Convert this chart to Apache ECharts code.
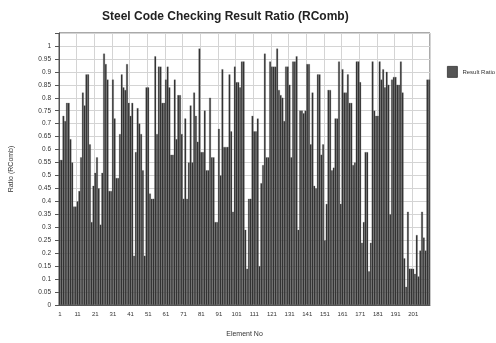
<!DOCTYPE html>
<html>
<head>
<meta charset="utf-8">
<script src="https://cdn.jsdelivr.net/npm/echarts@6/dist/echarts.min.js"></script>
<style>
  html, body { margin: 0; padding: 0; background: #fff; }
  #chart { width: 496px; height: 343px; }
</style>
</head>
<body>
<div id="chart"></div>
<script>
const titleText = "Steel Code Checking Result Ratio (RComb)";
const seriesName = "Result Ratio";
const xName = "Element No";
const yName = "Ratio (RComb)";

// element numbers 1..210
const elements = Array.from({ length: 210 }, (_, i) => String(i + 1));

// ratio per element (rows of 10)
const ratios = [
  0.56, 0.56, 0.73, 0.71, 0.78, 0.78, 0.64, 0.55, 0.38, 0.38,
  0.40, 0.44, 0.57, 0.82, 0.77, 0.89, 0.89, 0.62, 0.32, 0.46,
  0.51, 0.57, 0.45, 0.31, 0.51, 0.97, 0.93, 0.87, 0.44, 0.44,
  0.87, 0.72, 0.49, 0.49, 0.66, 0.89, 0.84, 0.83, 0.93, 0.78,
  0.73, 0.78, 0.19, 0.59, 0.76, 0.70, 0.66, 0.52, 0.19, 0.84,
  0.84, 0.43, 0.41, 0.41, 0.96, 0.66, 0.92, 0.92, 0.78, 0.78,
  0.87, 0.92, 0.84, 0.58, 0.58, 0.87, 0.64, 0.81, 0.81, 0.66,
  0.41, 0.72, 0.41, 0.55, 0.77, 0.55, 0.82, 0.73, 0.63, 0.99,
  0.59, 0.59, 0.75, 0.52, 0.52, 0.80, 0.57, 0.57, 0.32, 0.32,
  0.68, 0.50, 0.91, 0.61, 0.61, 0.61, 0.89, 0.67, 0.36, 0.92,
  0.86, 0.86, 0.84, 0.94, 0.94, 0.29, 0.14, 0.41, 0.41, 0.73,
  0.67, 0.67, 0.72, 0.15, 0.47, 0.54, 0.97, 0.57, 0.57, 0.94,
  0.92, 0.92, 0.92, 0.99, 0.83, 0.81, 0.80, 0.71, 0.92, 0.92,
  0.85, 0.57, 0.94, 0.94, 0.96, 0.29, 0.75, 0.75, 0.74, 0.75,
  0.93, 0.93, 0.62, 0.82, 0.46, 0.45, 0.89, 0.89, 0.58, 0.62,
  0.25, 0.39, 0.83, 0.83, 0.52, 0.53, 0.72, 0.72, 0.94, 0.39,
  0.91, 0.82, 0.82, 0.89, 0.78, 0.78, 0.54, 0.55, 0.94, 0.94,
  0.86, 0.24, 0.32, 0.59, 0.59, 0.13, 0.24, 0.94, 0.75, 0.73,
  0.73, 0.94, 0.87, 0.91, 0.84, 0.90, 0.85, 0.35, 0.87, 0.88,
  0.88, 0.85, 0.85, 0.94, 0.82, 0.18, 0.07, 0.36, 0.14, 0.14,
  0.14, 0.12, 0.27, 0.11, 0.21, 0.36, 0.26, 0.21, 0.87, 0.87
];

const chart = echarts.init(document.getElementById("chart"), null, { renderer: "canvas" });
chart.setOption({
  animation: false,
  textStyle: { fontFamily: "Liberation Sans, Arial, sans-serif" },
  title: {
    text: titleText, left: 97, top: 6,
    textStyle: { fontSize: 12, fontWeight: "bold", color: "#222" }
  },
  legend: {
    data: [seriesName], orient: "vertical", left: 442, top: 61,
    icon: "rect", itemWidth: 10, itemHeight: 11, itemGap: 4,
    textStyle: { fontSize: 6, color: "#333" },
    itemStyle: { color: "#555", borderColor: "#333", borderWidth: 0.8 }
  },
  grid: { left: 57, right: 66, top: 33, bottom: 37, show: true, borderColor: "#555", borderWidth: 1 },
  xAxis: {
    type: "category", data: elements,
    name: xName, nameLocation: "middle", nameGap: 26,
    nameTextStyle: { fontSize: 7, color: "#333" },
    axisLine: { lineStyle: { color: "#555" } },
    axisTick: { interval: 9, alignWithLabel: true, length: 4, lineStyle: { color: "#555" } },
    axisLabel: { interval: 9, hideOverlap: false, fontSize: 6, color: "#333", margin: 6 },
    splitLine: { show: true, interval: 9, lineStyle: { color: "#d4d4d4", width: 1 } }
  },
  yAxis: {
    type: "value", min: 0, max: 1.05, interval: 0.05,
    name: yName, nameLocation: "middle", nameGap: 44, nameRotate: 90,
    nameTextStyle: { fontSize: 7, color: "#333" },
    axisLine: { show: true, lineStyle: { color: "#555" } },
    axisTick: { show: true, length: 4, lineStyle: { color: "#555" } },
    axisLabel: {
      fontSize: 6.5, color: "#333", margin: 8,
      formatter: v => (v > 1.001 ? "" : String(parseFloat(v.toFixed(2))))
    },
    splitLine: { show: true, lineStyle: { color: "#d4d4d4", width: 1 } }
  },
  series: [{
    name: seriesName, type: "bar", data: ratios,
    barCategoryGap: "0%",
    itemStyle: { color: "#2b2b2b", borderColor: "#6a6a6a", borderWidth: 0.3 }
  }]
});
</script>
</body>
</html>
